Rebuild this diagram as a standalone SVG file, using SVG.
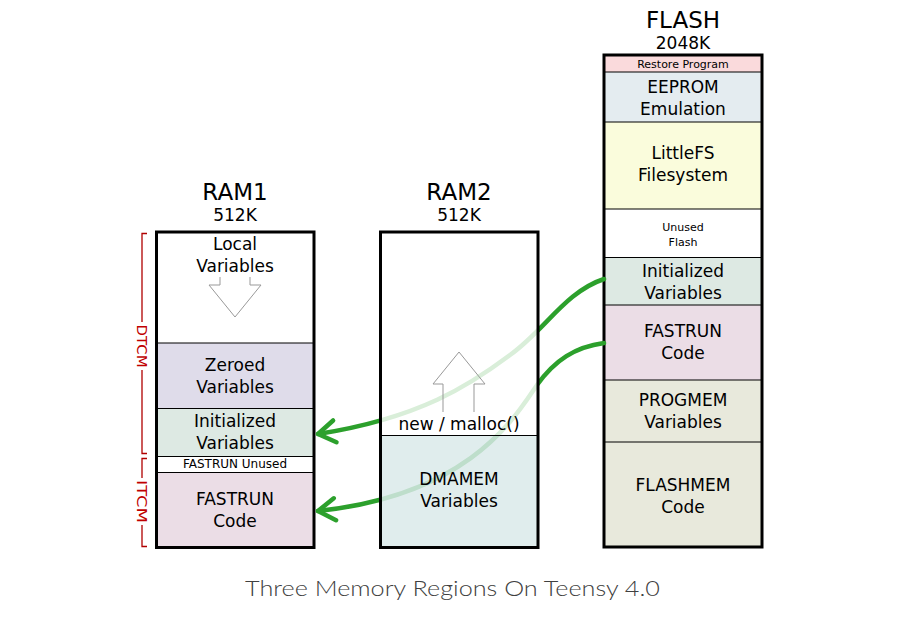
<svg xmlns="http://www.w3.org/2000/svg" width="902" height="620" viewBox="0 0 902 620">
<style>
text{font-family:"DejaVu Sans",Verdana,sans-serif;fill:#000;text-anchor:middle}
.h{font-size:23px}
.k{font-size:17px}
.t{font-size:17px}
.sm{font-size:11px}
.xs{font-size:12px}
.box{fill:none;stroke:#000;stroke-width:3}
.dv{stroke:#000;stroke-width:1.2}
.arr{fill:none;stroke:#999;stroke-width:1}
.br{fill:none;stroke:#b00000;stroke-width:1.3}
.brt{fill:#c00000;font-size:14px}
.con{fill:none;stroke:#2ca02c;stroke-width:4.5;stroke-linecap:round;marker-end:url(#ah)}
.title{font-family:Lato,"Open Sans","Liberation Sans",sans-serif;font-weight:300;font-size:22px;fill:#404040}
</style>
<defs>
<marker id="ah" markerUnits="userSpaceOnUse" viewBox="-22 -15 28 30" refX="0" refY="0" markerWidth="28" markerHeight="30" orient="auto" overflow="visible">
<path d="M-17,-11 L0,0 L-17,11" fill="none" stroke="#2ca02c" stroke-width="4.5" stroke-linecap="round" stroke-linejoin="round"/>
</marker>
</defs>
<rect width="902" height="620" fill="#fff"/>

<g id="ram1">
<text class="h" x="235" y="200">RAM1</text>
<text class="k" x="235" y="221">512K</text>
<rect x="156.5" y="232" width="157.5" height="111" fill="#fff"/>
<rect x="156.5" y="343" width="157.5" height="65.5" fill="#dfdcea"/>
<rect x="156.5" y="408.5" width="157.5" height="48" fill="#dde9e3"/>
<rect x="156.5" y="456.5" width="157.5" height="16" fill="#fff"/>
<rect x="156.5" y="472.5" width="157.5" height="75" fill="#ebdde6"/>
<line class="dv" x1="156.5" y1="343" x2="314" y2="343"/>
<line class="dv" x1="156.5" y1="408.5" x2="314" y2="408.5"/>
<line class="dv" x1="156.5" y1="456.5" x2="314" y2="456.5"/>
<line class="dv" x1="156.5" y1="472.5" x2="314" y2="472.5"/>
<text class="t" x="235" y="250">Local</text>
<text class="t" x="235" y="272">Variables</text>
<path class="arr" d="M220,277 V285 H209 L235,317 L261,285 H250 V277"/>
<text class="t" x="235" y="371">Zeroed</text>
<text class="t" x="235" y="393">Variables</text>
<text class="t" x="235" y="427">Initialized</text>
<text class="t" x="235" y="449">Variables</text>
<text class="xs" x="235" y="468">FASTRUN Unused</text>
<text class="t" x="235" y="505">FASTRUN</text>
<text class="t" x="235" y="527">Code</text>
<rect class="box" x="156.5" y="232" width="157.5" height="315.5"/>
</g>

<g id="brackets">
<path class="br" d="M147,233.5 H142 V322 M142,370 V453.5 H147"/>
<text class="brt" transform="translate(136.5,346) rotate(90)" textLength="43" lengthAdjust="spacingAndGlyphs">DTCM</text>
<path class="br" d="M147,458.5 H142 V478 M142,525 V546.5 H147"/>
<text class="brt" transform="translate(136.5,501.5) rotate(90)" textLength="43" lengthAdjust="spacingAndGlyphs">ITCM</text>
</g>

<g id="flash">
<text class="h" x="683" y="28">FLASH</text>
<text class="k" x="683" y="49">2048K</text>
<rect x="604" y="55" width="158" height="17" fill="#fadadc"/>
<rect x="604" y="72" width="158" height="50" fill="#e4ecf0"/>
<rect x="604" y="122" width="158" height="87" fill="#fafcdc"/>
<rect x="604" y="209" width="158" height="48.5" fill="#fff"/>
<rect x="604" y="257.5" width="158" height="47.5" fill="#dde9e3"/>
<rect x="604" y="305" width="158" height="75" fill="#ebdde6"/>
<rect x="604" y="380" width="158" height="62" fill="#e8e9dc"/>
<rect x="604" y="442" width="158" height="105" fill="#e8e9dc"/>
<line class="dv" x1="604" y1="72" x2="762" y2="72"/>
<line class="dv" x1="604" y1="122" x2="762" y2="122"/>
<line class="dv" x1="604" y1="209" x2="762" y2="209"/>
<line class="dv" x1="604" y1="257.5" x2="762" y2="257.5"/>
<line class="dv" x1="604" y1="305" x2="762" y2="305"/>
<line class="dv" x1="604" y1="380" x2="762" y2="380"/>
<line class="dv" x1="604" y1="442" x2="762" y2="442"/>
<text class="sm" x="683" y="67.5">Restore Program</text>
<text class="t" x="683" y="93">EEPROM</text>
<text class="t" x="683" y="115">Emulation</text>
<text class="t" x="683" y="159">LittleFS</text>
<text class="t" x="683" y="181">Filesystem</text>
<text class="sm" x="683" y="231">Unused</text>
<text class="sm" x="683" y="246">Flash</text>
<text class="t" x="683" y="277">Initialized</text>
<text class="t" x="683" y="299">Variables</text>
<text class="t" x="683" y="337">FASTRUN</text>
<text class="t" x="683" y="359">Code</text>
<text class="t" x="683" y="406">PROGMEM</text>
<text class="t" x="683" y="428">Variables</text>
<text class="t" x="683" y="491">FLASHMEM</text>
<text class="t" x="683" y="513">Code</text>
<rect class="box" x="604" y="55" width="158" height="492"/>
</g>

<g id="connectors">
<path class="con" d="M604,279 C565,292 545,330 510,355 C470,385 420,418 318,434"/>
<path class="con" d="M604,343 C575,347 555,360 537,385 C515,417 470,495 318,511"/>
</g>

<g id="ram2">
<text class="h" x="459" y="200">RAM2</text>
<text class="k" x="459" y="221">512K</text>
<rect x="380.5" y="232" width="157.5" height="203.5" fill="#fff" fill-opacity="0.82"/>
<rect x="380.5" y="435.5" width="157.5" height="112" fill="#dae9e9" fill-opacity="0.84"/>
<line class="dv" x1="380.5" y1="435.5" x2="538" y2="435.5"/>
<path class="arr" d="M443,412 V384 H433 L459,352 L485,384 H474 V412"/>
<text class="t" x="459" y="430">new / malloc()</text>
<text class="t" x="459" y="485">DMAMEM</text>
<text class="t" x="459" y="507">Variables</text>
<rect class="box" x="380.5" y="232" width="157.5" height="315.5"/>
</g>

<text class="title" x="452.5" y="596" textLength="415" lengthAdjust="spacingAndGlyphs">Three Memory Regions On Teensy 4.0</text>
</svg>
